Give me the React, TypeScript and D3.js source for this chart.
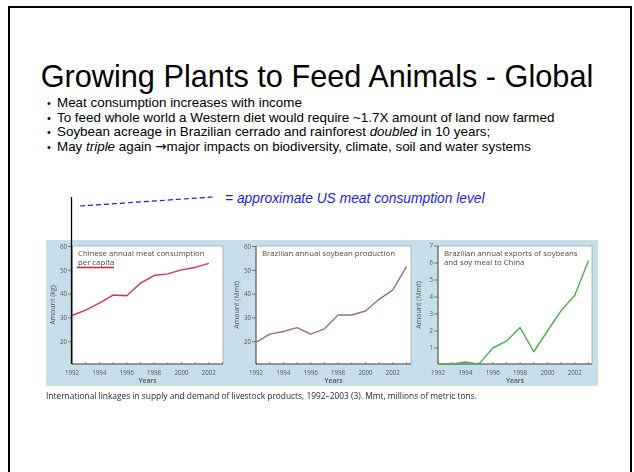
import React from "react";
import * as d3 from "d3";

// ---- slide text ----
const slideTitle = "Growing Plants to Feed Animals - Global";
const bullets: { pre: string; em?: string; post?: string; arrowAfter?: boolean; tail?: string }[] = [
  { pre: "Meat consumption increases with income" },
  { pre: "To feed whole world a Western diet would require ~1.7X amount of land now farmed" },
  { pre: "Soybean acreage in Brazilian cerrado and rainforest ", em: "doubled", post: " in 10 years;" },
  { pre: "May ", em: "triple", post: " again ", arrowAfter: true, tail: "major impacts on biodiversity, climate, soil and water systems" },
];
const usLevelNote = "= approximate US meat consumption level";
const figureCaption =
  "International linkages in supply and demand of livestock products, 1992\u20132003 (3). Mmt, millions of metric tons.";

// ---- chart data ----
const years = [1992, 1993, 1994, 1995, 1996, 1997, 1998, 1999, 2000, 2001, 2002, 2003];
const yearTickLabels = [1992, 1994, 1996, 1998, 2000, 2002];

// Chinese annual meat consumption per capita (kg), 1992-2002
const chinaMeatKg = [31, 33.3, 36.2, 39.6, 39.3, 44.6, 47.8, 48.5, 50.2, 51.2, 52.9];
// Brazilian annual soybean production (Mmt), 1992-2003
const brazilSoyMmt = [19.7, 23.2, 24.3, 25.9, 23.2, 25.4, 31.2, 31.2, 32.9, 37.8, 41.8, 51.5];
// Brazilian annual exports of soybeans and soy meal to China (Mmt), 1992-2003
const soyToChinaMmt = [0.05, 0.05, 0.18, 0.05, 1.0, 1.4, 2.2, 0.78, 2.0, 3.2, 4.1, 6.15];

const kgTicks = [20, 30, 40, 50, 60];
const mmtTicks = [20, 30, 40, 50, 60];
const exportTicks = [1, 2, 3, 4, 5, 6, 7];

type PanelProps = {
  x0: number;
  x1: number;
  y0: number;
  y1: number;
  yTop: number;
  yTopValue: number;
  yRefPos: number;
  yRefValue: number;
  ticks: number[];
  values: number[];
  color: string;
  titleLines: string[];
  underlineSecond?: boolean;
  yLabel: string;
};

const figFont = "'Open Sans', 'DejaVu Sans', sans-serif";
const slideFont = "'Liberation Sans', Arial, sans-serif";

function Panel(p: PanelProps) {
  const x = d3.scaleLinear().domain([1992, 2003]).range([p.x0, p.x0 + 150.5]);
  const y = d3
    .scaleLinear()
    .domain([p.yRefValue, p.yTopValue])
    .range([p.yRefPos, p.yTop]);
  const pts = p.values.map((v, i) => [years[i], v] as [number, number]);
  const line = d3
    .line<[number, number]>()
    .x((d) => x(d[0]))
    .y((d) => y(d[1]));
  const midY = (p.y0 + p.y1) / 2;
  return (
    <g>
      <rect x={p.x0} y={p.y0} width={p.x1 - p.x0} height={p.y1 - p.y0} fill="#ffffff" stroke="#8a8f94" strokeWidth={0.6} />
      <line x1={p.x0} x2={p.x0} y1={p.y0} y2={p.y1} stroke="#4a4a4a" strokeWidth={0.9} />
      <line x1={p.x0} x2={p.x1} y1={p.y1} y2={p.y1} stroke="#4a4a4a" strokeWidth={0.9} />
      {p.ticks.map((t) => (
        <g key={t}>
          <line x1={p.x0 - 4} x2={p.x0} y1={y(t)} y2={y(t)} stroke="#4a4a4a" strokeWidth={0.7} />
          <text x={p.x0 - 5} y={y(t) + 2.2} fontSize={6.2} fill="#555" textAnchor="end" fontFamily={figFont}>
            {t}
          </text>
        </g>
      ))}
      {years.map((yr) => (
        <line key={yr} x1={x(yr)} x2={x(yr)} y1={p.y1} y2={p.y1 - 2} stroke="#4a4a4a" strokeWidth={0.6} />
      ))}
      {yearTickLabels.map((yr) => (
        <text key={yr} x={x(yr)} y={p.y1 + 10.5} fontSize={6.2} fill="#555" textAnchor="middle" fontFamily={figFont}>
          {yr}
        </text>
      ))}
      <text x={(p.x0 + p.x1) / 2} y={p.y1 + 19} fontSize={6.8} fill="#555" textAnchor="middle" fontWeight={600} fontFamily={figFont}>
        Years
      </text>
      <text
        transform={`translate(${p.x0 - 17},${midY}) rotate(-90)`}
        fontSize={7}
        fill="#555"
        textAnchor="middle"
        fontFamily={figFont}
      >
        {p.yLabel}
      </text>
      {p.titleLines.map((t, i) => (
        <text key={i} x={p.x0 + 6} y={p.y0 + 10 + i * 9} fontSize={7.8} fill="#4a4a4a" fontFamily={figFont}>
          {t}
        </text>
      ))}
      {p.underlineSecond && (
        <line x1={p.x0 + 5} x2={p.x0 + 42} y1={p.y0 + 21.5} y2={p.y0 + 21.5} stroke="#e02020" strokeWidth={1.3} />
      )}
      <path d={line(pts) || ""} fill="none" stroke={p.color} strokeWidth={1.4} strokeLinejoin="round" />
    </g>
  );
}

export default function App() {
  return (
    <div style={{ position: "fixed", left: 0, top: 0 }}>
      <svg width={634} height={472} viewBox="0 0 634 472" style={{ display: "block", background: "#fff" }}>
        <defs>
          <filter id="soft" x="-5%" y="-5%" width="110%" height="110%">
            <feGaussianBlur stdDeviation={0.5} />
          </filter>
        </defs>
        <rect x={0} y={0} width={634} height={472} fill="#fff" />
        <rect x={9} y={7} width={622} height={480} fill="none" stroke="#000" strokeWidth={2} />

        <text x={317} y={87} fontSize={30.7} textAnchor="middle" fontFamily={slideFont} fill="#000">
          {slideTitle}
        </text>

        {bullets.map((b, i) => (
          <g key={i}>
            <text x={47} y={107 + i * 14.5} fontSize={11} fontFamily={slideFont} fill="#000">
              {"\u2022"}
            </text>
            <text x={57} y={107 + i * 14.5} fontSize={13.4} fontFamily={slideFont} fill="#000">
              {b.pre}
              {b.em && <tspan fontStyle="italic">{b.em}</tspan>}
              {b.post}
              {b.arrowAfter && (
                <tspan fontFamily="'DejaVu Sans', sans-serif" fontSize={13.4}>
                  {"\u2192"}
                </tspan>
              )}
              {b.tail}
            </text>
          </g>
        ))}

        <line x1={80} y1={206} x2={213} y2={197} stroke="#1a1aee" strokeWidth={1.2} strokeDasharray="5,3" />
        <text x={225} y={203} fontSize={13.8} fontStyle="italic" fill="#1a1aee" fontFamily={slideFont}>
          {usLevelNote}
        </text>

        <g filter="url(#soft)">
          <rect x={46} y={240} width={552} height={146} fill="#c6dfeb" />
          <Panel
            x0={72}
            x1={223}
            y0={246}
            y1={364}
            yTop={246.5}
            yTopValue={60}
            yRefPos={341.7}
            yRefValue={20}
            ticks={kgTicks}
            values={chinaMeatKg}
            color="#dc3050"
            titleLines={["Chinese annual meat consumption", "per capita"]}
            underlineSecond
            yLabel="Amount (kg)"
          />
          <Panel
            x0={256}
            x1={411}
            y0={246}
            y1={364}
            yTop={246.5}
            yTopValue={60}
            yRefPos={341.7}
            yRefValue={20}
            ticks={mmtTicks}
            values={brazilSoyMmt}
            color="#9a6a98"
            titleLines={["Brazilian annual soybean production"]}
            yLabel="Amount (Mmt)"
          />
          <Panel
            x0={438}
            x1={592}
            y0={246}
            y1={364}
            yTop={246}
            yTopValue={7}
            yRefPos={365}
            yRefValue={0}
            ticks={exportTicks}
            values={soyToChinaMmt}
            color="#4cae4c"
            titleLines={["Brazilian annual exports of soybeans", "and soy meal to China"]}
            yLabel="Amount (Mmt)"
          />
          <text x={46} y={399} fontSize={8.4} fill="#2a2a2a" fontFamily={figFont}>
            {figureCaption}
          </text>
        </g>

        <line x1={71.5} x2={71.5} y1={197} y2={364} stroke="#000" strokeWidth={1.3} />
      </svg>
    </div>
  );
}
